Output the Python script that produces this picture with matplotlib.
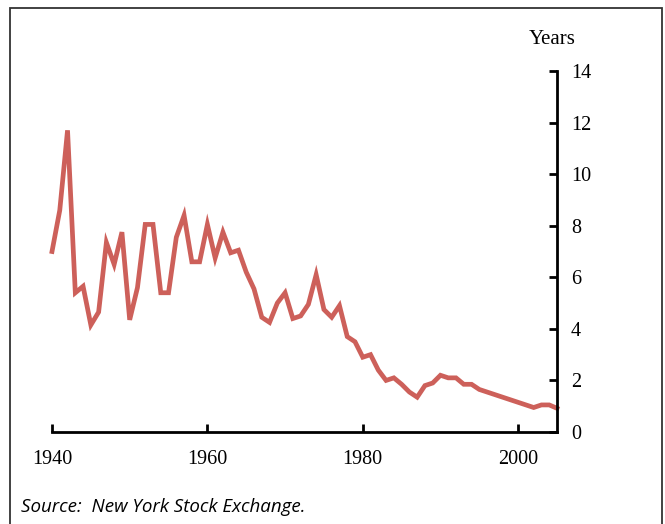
import matplotlib
matplotlib.use("Agg")
import matplotlib.pyplot as plt
from matplotlib.patches import Rectangle

years = list(range(1940, 2006))
holding_years = [
    7.0, 8.6, 11.7, 5.4, 5.65, 4.15, 4.65, 7.35, 6.5, 7.75,
    4.35, 5.6, 8.05, 8.05, 5.4, 5.4, 7.55, 8.4, 6.6, 6.6,
    8.05, 6.75, 7.75, 6.95, 7.05, 6.2, 5.55, 4.45, 4.25, 5.0,
    5.4, 4.4, 4.5, 4.95, 6.1, 4.75, 4.45, 4.9, 3.7, 3.5,
    2.9, 3.0, 2.4, 2.0, 2.1, 1.85, 1.55, 1.35, 1.8, 1.9,
    2.2, 2.1, 2.1, 1.85, 1.85, 1.65, 1.55, 1.45, 1.35, 1.25,
    1.15, 1.05, 0.95, 1.05, 1.05, 0.92,
]
x_ticks = [1940, 1960, 1980, 2000]
y_ticks = [0, 2, 4, 6, 8, 10, 12, 14]
y_label = "Years"
source = "Source:  New York Stock Exchange."

W, H = 665, 524
fig = plt.figure(figsize=(W / 100, H / 100), dpi=100)

# outer border
fig.patches.append(Rectangle((10 / W, -0.05), (662 - 10) / W, 1.05 - 8 / H,
                             transform=fig.transFigure, fill=False,
                             edgecolor="#333333", linewidth=1.3))

ax = fig.add_axes([52 / W, 1 - 432 / H, (557 - 52) / W, (432 - 71) / H])
ax.plot(years, holding_years, color="#CD605A", linewidth=3.4,
        solid_joinstyle="miter", clip_on=False)

ax.set_xlim(1940, 2005)
ax.set_ylim(0, 14)
ax.set_xticks(x_ticks)
ax.set_yticks(y_ticks)
ax.yaxis.tick_right()
for s in ["top", "left"]:
    ax.spines[s].set_visible(False)
for s in ["bottom", "right"]:
    ax.spines[s].set_linewidth(2.0)
    ax.spines[s].set_color("black")

serif = "Liberation Serif"
ax.tick_params(axis="x", direction="in", length=6, width=2, pad=13,
               labelsize=14.5)
ax.tick_params(axis="y", direction="in", length=6, width=2, pad=10,
               labelsize=14.5)
for lab in ax.get_xticklabels() + ax.get_yticklabels():
    lab.set_fontfamily(serif)

fig.text(576 / W, 1 - 40 / H, y_label, fontsize=15, family=serif,
         ha="right", va="center")
fig.text(21 / W, 1 - 507 / H, source, fontsize=13.5, family="Open Sans",
         style="italic", ha="left", va="center")

fig.savefig("out.png", dpi=100)
